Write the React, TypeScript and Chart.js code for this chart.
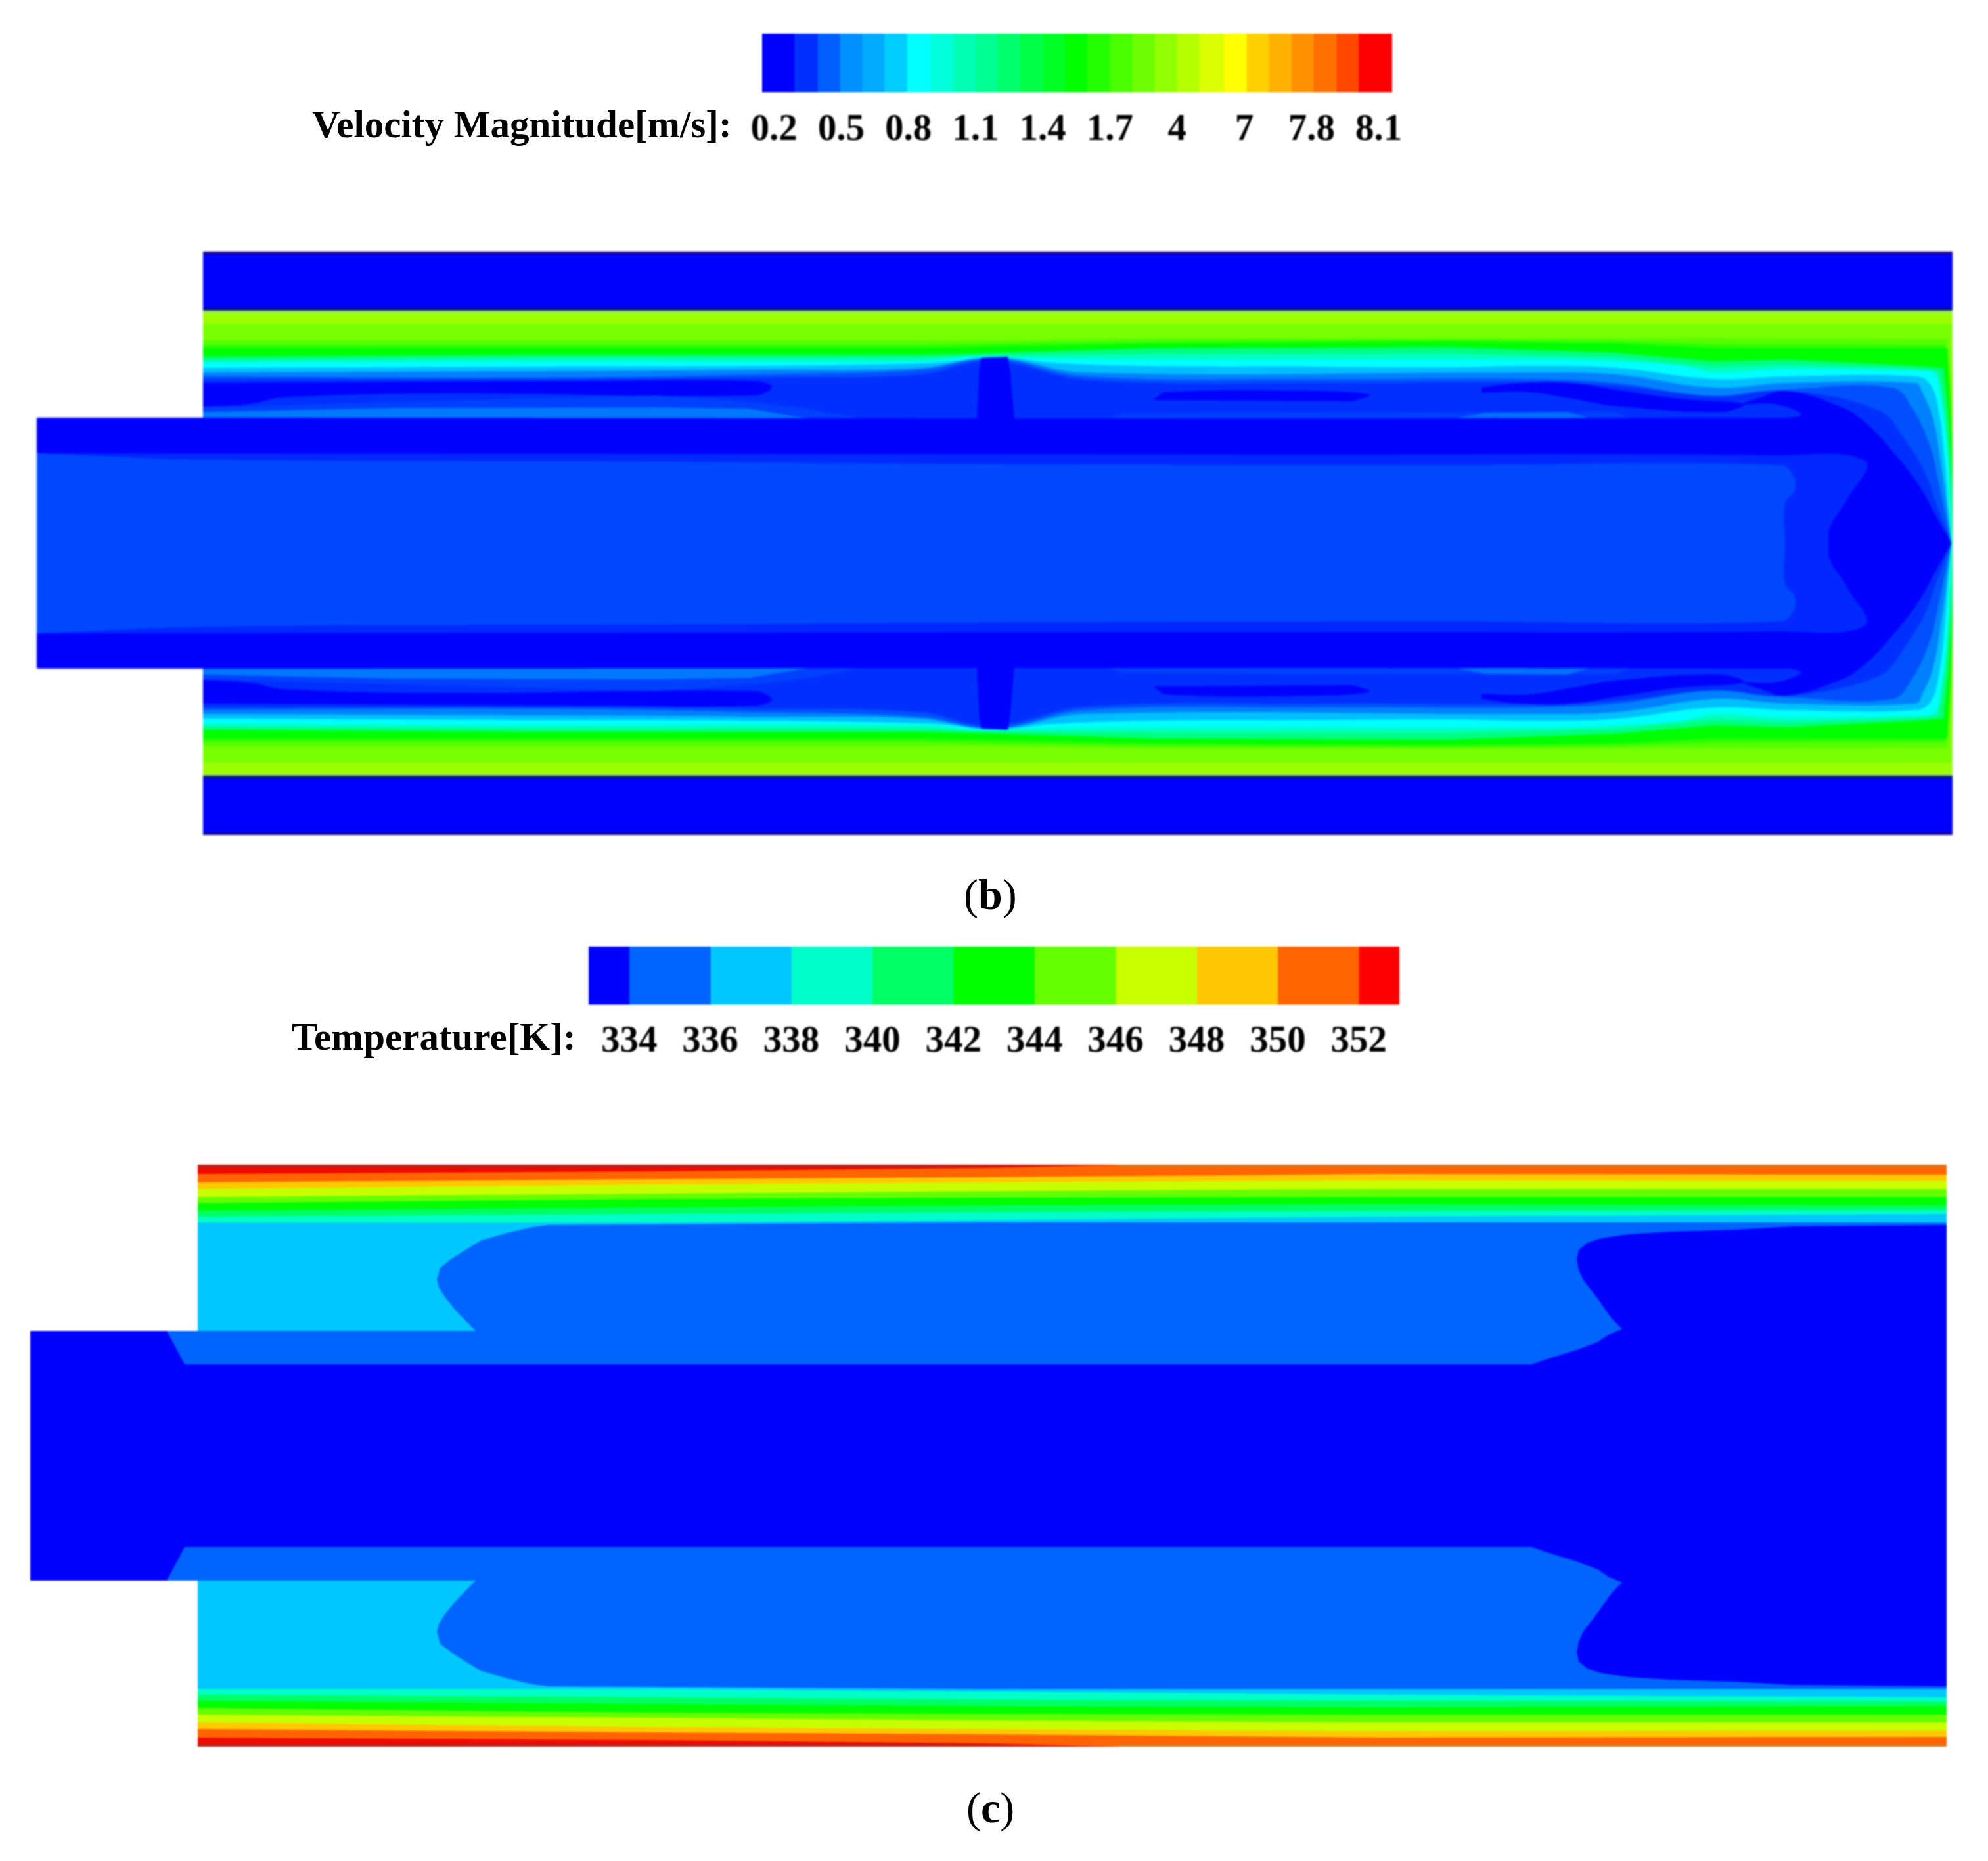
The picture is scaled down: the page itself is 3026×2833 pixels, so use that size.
import React, { useEffect, useRef } from "react";
import { Chart, registerables } from "chart.js";

Chart.register(...registerables);

type Pt = [number, number];
type Region = { color: string; half: Pt[]; closed?: boolean; smooth?: boolean };

// ---------- colour-bar data ----------
const velocityTickLabels = ["0.2", "0.5", "0.8", "1.1", "1.4", "1.7", "4", "7", "7.8", "8.1"];
const velocityBandEdges = [-0.176, 0.3, 0.65, 0.98, 1.31, 1.64, 1.98, 2.33, 2.66, 3.0, 3.33, 3.66, 4.0, 4.33, 4.66, 5.0, 5.33, 5.66, 6.0, 6.33, 6.7, 7.03, 7.36, 7.7, 8.03, 8.37, 8.7, 9.2];
const velocityBandColors = ["#0000ff", "#0030ff", "#0060ff", "#0090ff", "#00aaff", "#00ccff", "#00ffff", "#00ffdb", "#00ffb6", "#00ff92", "#00ff6d", "#00ff49", "#00ff24", "#00ff00", "#24ff00", "#49ff00", "#6dff00", "#92ff00", "#b6ff00", "#dbff00", "#ffff00", "#ffd000", "#ffb000", "#ff9000", "#ff7000", "#ff4800", "#ff0000"];

const temperatureTicks = [334, 336, 338, 340, 342, 344, 346, 348, 350, 352];
const temperatureBandEdges = [333, 334, 336, 338, 340, 342, 344, 346, 348, 350, 352, 353];
const temperatureBandColors = ["#0000ff", "#0064ff", "#00c8ff", "#00ffc8", "#00ff64", "#00ff00", "#64ff00", "#c8ff00", "#ffc800", "#ff6400", "#ff0000"];

// ---------- velocity contours: [axial position, radial distance from the axis], upper half ----------
const vWall: Pt[] = [[309, 444], [2972, 444], [2972, 354], [309, 354]];
const vWallOuterEdge: Pt[] = [[309, 444], [2972, 444], [2972, 440], [309, 440]];
const vWallEdge: Pt[] = [[309, 358], [2972, 358], [2972, 354], [309, 354]];
const vLevel0: Pt[] = [[309, 354], [2972, 354], [2972, 0]];
const vLevel0b: Pt[] = [[309, 351], [2971, 351], [2971, 0]];
const vLevel1: Pt[] = [[309, 334], [2970, 334], [2972, 250], [2972, 0]];
const vLevel2: Pt[] = [[309, 309], [1500, 309], [1750, 312], [2609, 312], [2964, 311], [2970, 240], [2972, 150], [2972, 0]];
const vLevel2b: Pt[] = [[309, 302], [1400, 302], [1750, 308], [2200, 310], [2460, 308], [2609, 303], [2960, 302], [2968, 220], [2972, 120], [2972, 0]];
const vLevel3: Pt[] = [[309, 297], [1400, 297], [1750, 304], [2200, 307], [2460, 304], [2609, 297], [2916, 297], [2964, 297], [2968, 220], [2972, 120], [2972, 0]];
const vLevel4: Pt[] = [[309, 284], [800, 287], [1400, 287], [1491, 289], [1750, 297], [2200, 299], [2460, 290], [2609, 277], [2720, 280], [2916, 270], [2958, 267], [2966, 190], [2972, 80], [2972, 0]];
const vLevel4b: Pt[] = [[309, 279], [800, 282], [1400, 282], [1491, 286], [1750, 288], [2200, 289], [2460, 283], [2609, 268], [2720, 272], [2916, 266], [2950, 262], [2960, 200], [2968, 80], [2971, 0]];
const vLevel5: Pt[] = [[309, 275], [800, 277], [1400, 277], [1491, 284], [1536, 282], [1750, 280], [2330, 280], [2460, 277], [2560, 270], [2609, 260], [2720, 265], [2916, 262], [2945, 257], [2955, 217], [2964, 147], [2968, 67], [2970, 0]];
const vLevel6: Pt[] = [[309, 267], [800, 269], [1150, 270], [1400, 274], [1470, 279], [1491, 282], [1536, 282], [1600, 275], [1750, 270], [2000, 269], [2200, 268], [2330, 270], [2460, 267], [2609, 250], [2720, 254], [2916, 254], [2938, 242], [2950, 207], [2960, 127], [2966, 47], [2970, 0]];
const vLevel7: Pt[] = [[309, 260], [800, 262], [1150, 264], [1400, 267], [1491, 282], [1536, 281], [1650, 260], [2330, 260], [2460, 257], [2609, 237], [2720, 244], [2916, 244], [2925, 232], [2943, 187], [2955, 117], [2963, 57], [2970, 0]];
const vLevel8: Pt[] = [[309, 254], [800, 252], [1150, 257], [1400, 264], [1491, 280], [1536, 279], [1650, 254], [2000, 250], [2330, 250], [2460, 244], [2609, 224], [2720, 234], [2880, 237], [2910, 207], [2938, 147], [2950, 97], [2962, 37], [2970, 0]];
const vLevel9: Pt[] = [[309, 250], [800, 250], [1150, 252], [1400, 257], [1491, 277], [1536, 275], [1650, 249], [2000, 244], [2330, 245], [2460, 240], [2609, 224], [2720, 232], [2860, 202], [2900, 157], [2930, 107], [2950, 52], [2970, 0]];
const vPatchA: Pt[] = [[309, 244], [900, 247], [1150, 247], [1175, 238], [1150, 225], [700, 228], [430, 222], [380, 212], [309, 208]];
const vPatchB: Pt[] = [[1755, 218], [1775, 230], [2000, 232], [2085, 226], [2060, 216]];
const vPatchC: Pt[] = [[2255, 237], [2314, 244], [2393, 244], [2458, 234], [2556, 220], [2654, 212], [2622, 200], [2458, 209], [2393, 220], [2327, 230], [2255, 229]];
const vWedgeMid: Pt[] = [[309, 207], [600, 215], [1000, 225], [1150, 215], [1230, 205], [1312, 190], [309, 190]];
const vWedgeLight: Pt[] = [[309, 200], [600, 206], [1000, 207], [1140, 205], [1230, 190], [309, 190]];
const vStripe: Pt[] = [[1689, 190], [1710, 198], [2458, 200], [2480, 190]];
const vStripeLight: Pt[] = [[2216, 190], [2260, 199], [2386, 200], [2420, 190]];
const vPost: Pt[] = [[1487, 190], [1490, 260], [1493, 282], [1534, 284], [1538, 260], [1544, 190]];
const vTubeOuter: Pt[] = [[56, 191], [2720, 191], [2742, 197], [2700, 212], [2654, 212], [2680, 222], [2719, 232], [2799, 209], [2839, 184], [2879, 142], [2919, 91], [2947, 41], [2970, 0]];
const vTubeMiddle: Pt[] = [[56, 137], [2000, 135], [2700, 134], [2839, 125], [2811, 66], [2785, 24], [2783, 0]];
const vTubeCore: Pt[] = [[56, 137], [319, 127], [1000, 124], [1600, 120], [2200, 119], [2711, 119], [2731, 100], [2731, 79], [2717, 62], [2717, 0]];

// ---------- temperature contours ----------
const tLevelOrange: Pt[] = [[301, 443], [2963, 443], [2963, 0]];
const tOrangeEdge: Pt[] = [[1704, 443], [2963, 443], [2963, 440], [1704, 440]];
const tRedBand: Pt[] = [[301, 443], [1704, 443], [1500, 438], [1000, 433], [301, 429]];
const tRedEdge: Pt[] = [[301, 443], [1704, 443], [1400, 439], [301, 439]];
const tLevelAmber: Pt[] = [[301, 416], [1000, 421], [1500, 424], [2100, 429], [2963, 428], [2963, 0]];
const tLevelLime: Pt[] = [[301, 406], [1000, 413], [1500, 416], [2100, 419], [2963, 418], [2963, 0]];
const tLevelYellowGreen: Pt[] = [[301, 394], [1000, 399], [1500, 403], [2100, 406], [2963, 406], [2963, 0]];
const tLevelGreen: Pt[] = [[301, 384], [1000, 391], [1500, 393], [2100, 394], [2963, 394], [2963, 0]];
const tLevelSpring: Pt[] = [[301, 373], [1000, 378], [1500, 381], [2100, 383], [2963, 381], [2963, 0]];
const tLevelTeal: Pt[] = [[301, 364], [1000, 368], [1500, 371], [2100, 373], [2963, 374], [2963, 0]];
const tLevelSky: Pt[] = [[301, 355], [1000, 355], [1500, 359], [2100, 364], [2963, 368], [2963, 0]];
const tLevelAzure: Pt[] = [[254, 190], [724, 190], [708, 206], [692, 223], [676, 243], [668, 256], [665, 268], [670, 286], [686, 299], [708, 313], [733, 328], [772, 339], [810, 348], [835, 351], [1500, 355], [2963, 355], [2963, 0], [254, 0]];
const tLevelBlue: Pt[] = [[46, 190], [254, 190], [281, 139], [2331, 139], [2358, 148], [2400, 161], [2432, 173], [2448, 184], [2469, 193], [2453, 209], [2432, 239], [2411, 266], [2403, 283], [2400, 299], [2403, 313], [2416, 324], [2437, 331], [2479, 337], [2542, 341], [2642, 344], [2727, 349], [2963, 351], [2963, 0], [46, 0]];

// Regions painted from the outside in. "closed" regions reach the axis and mirror into one shape.
const velocityRegions: Region[] = [
  { color: "#0000ff", half: vWall },
  { color: "#140090", half: vWallOuterEdge },
  { color: "#001a78", half: vWallEdge },
  { color: "#a8e868", half: vLevel0, closed: true },
  { color: "#99ff00", half: vLevel0b, closed: true },
  { color: "#77ff00", half: vLevel1, closed: true },
  { color: "#55ff00", half: vLevel2, closed: true },
  { color: "#2bff00", half: vLevel2b, closed: true },
  { color: "#00ff00", half: vLevel3, closed: true },
  { color: "#00ff80", half: vLevel4, closed: true },
  { color: "#00ffc0", half: vLevel4b, closed: true },
  { color: "#00ffff", half: vLevel5, closed: true, smooth: true },
  { color: "#00bfff", half: vLevel6, closed: true, smooth: true },
  { color: "#0080ff", half: vLevel7, closed: true, smooth: true },
  { color: "#0050ff", half: vLevel8, closed: true, smooth: true },
  { color: "#0030ff", half: vLevel9, closed: true, smooth: true },
  { color: "#0000ff", half: vPatchA, smooth: true },
  { color: "#0040ff", half: vWedgeMid },
  { color: "#0078ff", half: vWedgeLight },
  { color: "#0000ff", half: vPatchB, smooth: true },
  { color: "#0000ff", half: vPatchC, smooth: true },
  { color: "#0040ff", half: vStripe },
  { color: "#0070ff", half: vStripeLight },
  { color: "#0000ff", half: vPost },
  { color: "#0000ff", half: vTubeOuter, closed: true, smooth: true },
  { color: "#0028ff", half: vTubeMiddle, closed: true, smooth: true },
  { color: "#0048ff", half: vTubeCore, closed: true, smooth: true },
];

const temperatureRegions: Region[] = [
  { color: "#ff6400", half: tLevelOrange, closed: true },
  { color: "#d07820", half: tOrangeEdge },
  { color: "#f00a00", half: tRedBand },
  { color: "#b82018", half: tRedEdge },
  { color: "#ffc800", half: tLevelAmber, closed: true },
  { color: "#c8ff00", half: tLevelLime, closed: true },
  { color: "#64ff00", half: tLevelYellowGreen, closed: true },
  { color: "#00ff00", half: tLevelGreen, closed: true },
  { color: "#00ff64", half: tLevelSpring, closed: true },
  { color: "#00ffc8", half: tLevelTeal, closed: true },
  { color: "#00c8ff", half: tLevelSky, closed: true },
  { color: "#0064ff", half: tLevelAzure, closed: true },
  { color: "#0000ff", half: tLevelBlue, closed: true },
];

const serif = '"Liberation Serif", serif';

function regionDatasets(regions: Region[]) {
  const shape = (pts: Pt[], r: Region) => ({
    data: pts.map(([x, y]) => ({ x, y })),
    showLine: true,
    fill: "shape",
    backgroundColor: r.color,
    borderWidth: 0,
    pointRadius: 0,
    tension: r.smooth ? 0.4 : 0,
  });
  const mirrored = (pts: Pt[]): Pt[] => pts.map(([x, r]) => [x, -r] as Pt);
  const list: any[] = [];
  regions.forEach((r) => {
    if (r.closed) {
      list.push(shape([...r.half, ...mirrored(r.half).reverse()], r));
    } else {
      list.push(shape(r.half, r));
      list.push(shape(mirrored(r.half), r));
    }
  });
  // Chart.js paints the first dataset last
  return list.reverse();
}

function Contour({ regions, top, blur }: { regions: Region[]; top: number; blur: number }) {
  const ref = useRef<HTMLCanvasElement>(null);
  useEffect(() => {
    const chart = new Chart(ref.current!, {
      type: "scatter",
      data: { datasets: regionDatasets(regions) as any },
      options: {
        animation: false,
        responsive: false,
        events: [],
        layout: { padding: 0 },
        plugins: { legend: { display: false }, tooltip: { enabled: false } },
        scales: {
          x: { type: "linear", min: 0, max: 3026, display: false },
          y: { type: "linear", min: -457, max: 457, display: false },
        },
      },
    });
    return () => chart.destroy();
  }, []);
  return (
    <canvas
      ref={ref}
      width={3026}
      height={914}
      style={{ position: "absolute", left: 0, top, filter: `blur(${blur}px)` }}
    />
  );
}

function ColorBar(props: {
  top: number; height: number; areaTop: number; areaLeft: number; areaRight: number; pad: number;
  edges: number[]; colors: string[]; tickValues: number[]; tickText: (v: number, i: number) => string;
}) {
  const ref = useRef<HTMLCanvasElement>(null);
  useEffect(() => {
    const { edges, colors, tickValues, tickText } = props;
    const chart = new Chart(ref.current!, {
      type: "bar",
      data: {
        labels: [""],
        datasets: colors.map((c, i) => ({
          data: [[edges[i], edges[i + 1]]],
          backgroundColor: c,
          borderWidth: 0,
          barPercentage: 1,
          categoryPercentage: 1,
          grouped: false,
        })) as any,
      },
      options: {
        animation: false,
        responsive: false,
        events: [],
        indexAxis: "y",
        layout: { padding: { left: props.areaLeft, right: 3026 - props.areaRight, top: props.areaTop, bottom: 0 } },
        plugins: { legend: { display: false }, tooltip: { enabled: false } },
        scales: {
          y: { display: false },
          x: {
            type: "linear",
            min: edges[0],
            max: edges[edges.length - 1],
            grid: { display: false, drawTicks: false },
            border: { display: false },
            afterBuildTicks: (scale: any) => {
              scale.ticks = tickValues.map((value) => ({ value }));
            },
            ticks: {
              autoSkip: false,
              maxRotation: 0,
              padding: props.pad,
              color: "#000",
              font: { family: serif, size: 57, weight: "bold", lineHeight: 1.2 },
              callback: (_: any, i: number) => tickText(tickValues[i], i),
            },
          },
        },
      },
    });
    return () => chart.destroy();
  }, []);
  return (
    <canvas
      ref={ref}
      width={3026}
      height={props.height}
      style={{ position: "absolute", left: 0, top: props.top, filter: "blur(1px)" }}
    />
  );
}

const textBase: React.CSSProperties = {
  position: "absolute",
  fontFamily: serif,
  color: "#000",
  whiteSpace: "nowrap",
  margin: 0,
};

export default function App() {
  return (
    <div style={{ position: "absolute", left: 0, top: 0, width: 3026, height: 2833, overflow: "hidden", background: "#fff" }}>
      <ColorBar
        top={40} height={190} areaTop={11} areaLeft={1160} areaRight={2119} pad={24}
        edges={velocityBandEdges} colors={velocityBandColors}
        tickValues={[0, 1, 2, 3, 4, 5, 6, 7, 8, 9]}
        tickText={(_, i) => velocityTickLabels[i]}
      />
      <div style={{ ...textBase, left: 475, top: 155, font: `bold 59px/68px ${serif}` }}>Velocity Magnitude[m/s]:</div>
      <Contour regions={velocityRegions} top={370} blur={1.6} />
      <div style={{ ...textBase, left: 1467, top: 1322, font: `66px/80px ${serif}` }}>(<b>b</b>)</div>

      <ColorBar
        top={1432} height={186} areaTop={9} areaLeft={896} areaRight={2130} pad={23}
        edges={temperatureBandEdges} colors={temperatureBandColors}
        tickValues={temperatureTicks}
        tickText={(v) => String(v)}
      />
      <div style={{ ...textBase, left: 444, top: 1544, font: `bold 59px/68px ${serif}` }}>Temperature[K]:</div>
      <Contour regions={temperatureRegions} top={1759} blur={1} />
      <div style={{ ...textBase, left: 1471, top: 2712, font: `66px/80px ${serif}` }}>(<b>c</b>)</div>
    </div>
  );
}
